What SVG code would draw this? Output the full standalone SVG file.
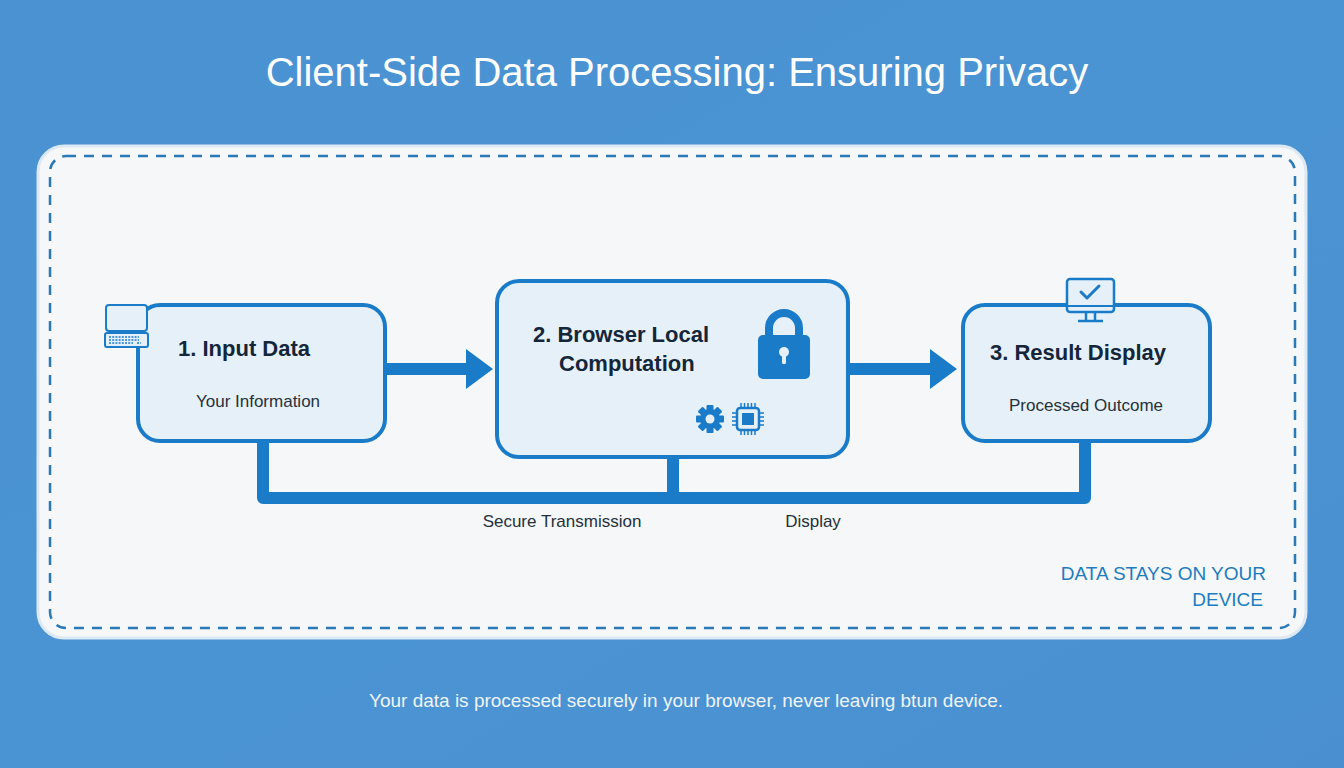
<svg xmlns="http://www.w3.org/2000/svg" width="1344" height="768" viewBox="0 0 1344 768">
<defs>
<linearGradient id="bg" x1="0" y1="0" x2="1" y2="1">
<stop offset="0" stop-color="#4a92d2"/>
<stop offset="0.5" stop-color="#4b94d4"/>
<stop offset="1" stop-color="#4a90d0"/>
</linearGradient>
<style>
.node{fill:#e6f0f9;stroke:#1a7bc9;stroke-width:4}
.title{font-family:"Liberation Sans",Arial,sans-serif;font-weight:bold;font-size:22px;fill:#14263a}
.sub{font-family:"Liberation Sans",Arial,sans-serif;font-size:17px;fill:#26303a}
.lbl{font-family:"Liberation Sans",Arial,sans-serif;font-size:17px;fill:#26303a}
.conn{stroke:#1a7bc9;stroke-width:12;fill:none;stroke-linejoin:round}
.icon{fill:#1a7bc9}
</style>
</defs>
<rect width="1344" height="768" fill="url(#bg)"/>
<text x="677" y="86" text-anchor="middle" font-family="'Liberation Sans',Arial,sans-serif" font-size="40" fill="#ffffff">Client-Side Data Processing: Ensuring Privacy</text>
<g id="panel">
<rect x="38" y="146" width="1268" height="492" rx="26" fill="#f5f7f9" stroke="#dce8f3" stroke-width="3"/>
<rect x="50" y="156" width="1245" height="472" rx="16" fill="none" stroke="#2a7ab8" stroke-width="2.5" stroke-dasharray="10 8"/>
</g>
<g id="connectors">
<line x1="385" y1="369" x2="468" y2="369" class="conn" stroke-width="11"/>
<polygon points="466,349 493,369 466,389" class="icon"/>
<line x1="848" y1="369" x2="932" y2="369" class="conn" stroke-width="11"/>
<polygon points="930,349 957,369 930,389" class="icon"/>
<polyline points="263,441 263,498 1085,498 1085,441" class="conn"/>
<line x1="673" y1="457" x2="673" y2="498" class="conn"/>
<text x="562" y="527" text-anchor="middle" class="lbl">Secure Transmission</text>
<text x="813" y="527" text-anchor="middle" class="lbl">Display</text>
</g>
<g id="node1">
<rect x="138" y="305" width="247" height="136" rx="22" class="node"/>
<text x="178" y="356" class="title">1. Input Data</text>
<text x="258" y="407" text-anchor="middle" class="sub">Your Information</text>
<g id="laptop">
<rect x="106" y="305" width="41" height="26" rx="3" fill="#e6f0f9" stroke="#1a7bc9" stroke-width="2"/>
<rect x="105" y="333" width="43" height="14" rx="2" fill="#e6f0f9" stroke="#1a7bc9" stroke-width="2"/>
<path d="M109 337h30M109 340h30M109 343h24M137 343h4" stroke="#1a7bc9" stroke-width="1.5" stroke-dasharray="2 1.2"/>
</g>
</g>
<g id="node2">
<rect x="497" y="281" width="351" height="176" rx="22" class="node"/>
<text x="533" y="342" class="title">2. Browser Local</text>
<text x="559" y="371" class="title">Computation</text>
<g id="lock">
<path d="M769 337v-9a15 15 0 0 1 30 0v9" fill="none" stroke="#1a7bc9" stroke-width="8"/>
<rect x="758" y="335" width="52" height="44" rx="5" class="icon"/>
<circle cx="784" cy="352" r="5" fill="#e6f0f9"/>
<rect x="782" y="352" width="4" height="12" rx="1.5" fill="#e6f0f9"/>
</g>
<g id="gear" transform="translate(710,419)">
<circle r="10" class="icon"/>
<g class="icon">
<rect x="-3.5" y="-14" width="7" height="28" rx="1"/>
<rect x="-3.5" y="-14" width="7" height="28" rx="1" transform="rotate(45)"/>
<rect x="-3.5" y="-14" width="7" height="28" rx="1" transform="rotate(90)"/>
<rect x="-3.5" y="-14" width="7" height="28" rx="1" transform="rotate(135)"/>
</g>
<circle r="4.5" fill="#e6f0f9"/>
</g>
<g id="chip" transform="translate(748,419)">
<rect x="-11" y="-11" width="22" height="22" rx="3" fill="#e6f0f9" stroke="#1a7bc9" stroke-width="2.5"/>
<rect x="-6" y="-6" width="12" height="12" class="icon"/>
<path d="M-7-11v-5M-3.5-11v-5M0-11v-5M3.5-11v-5M7-11v-5M-7 11v5M-3.5 11v5M0 11v5M3.5 11v5M7 11v5M-11-6h-5M-11-2h-5M-11 2h-5M-11 6h-5M11-6h5M11-2h5M11 2h5M11 6h5" stroke="#1a7bc9" stroke-width="1.5"/>
</g>
</g>
<g id="node3">
<rect x="963" y="305" width="247" height="136" rx="22" class="node"/>
<text x="990" y="360" class="title">3. Result Display</text>
<text x="1086" y="411" text-anchor="middle" class="sub">Processed Outcome</text>
<g id="monitor">
<rect x="1067" y="279" width="47" height="33" rx="3" fill="#e6f0f9" stroke="#1a7bc9" stroke-width="2.5"/>
<line x1="1068" y1="306" x2="1113" y2="306" stroke="#1a7bc9" stroke-width="2"/>
<path d="M1081 292l6 6 12-12" fill="none" stroke="#1a7bc9" stroke-width="3" stroke-linecap="round" stroke-linejoin="round"/>
<path d="M1086 312v8M1095 312v8M1078 321h25" stroke="#1a7bc9" stroke-width="2.5"/>
</g>
</g>
<g id="note">
<text x="1266" y="580" text-anchor="end" font-family="'Liberation Sans',Arial,sans-serif" font-size="19" fill="#1d7cc0">DATA STAYS ON YOUR</text>
<text x="1263" y="606" text-anchor="end" font-family="'Liberation Sans',Arial,sans-serif" font-size="19" fill="#1d7cc0">DEVICE</text>
</g>
<text x="686" y="707" text-anchor="middle" font-family="'Liberation Sans',Arial,sans-serif" font-size="19" fill="#eef4fa">Your data is processed securely in your browser, never leaving btun device.</text>
</svg>
